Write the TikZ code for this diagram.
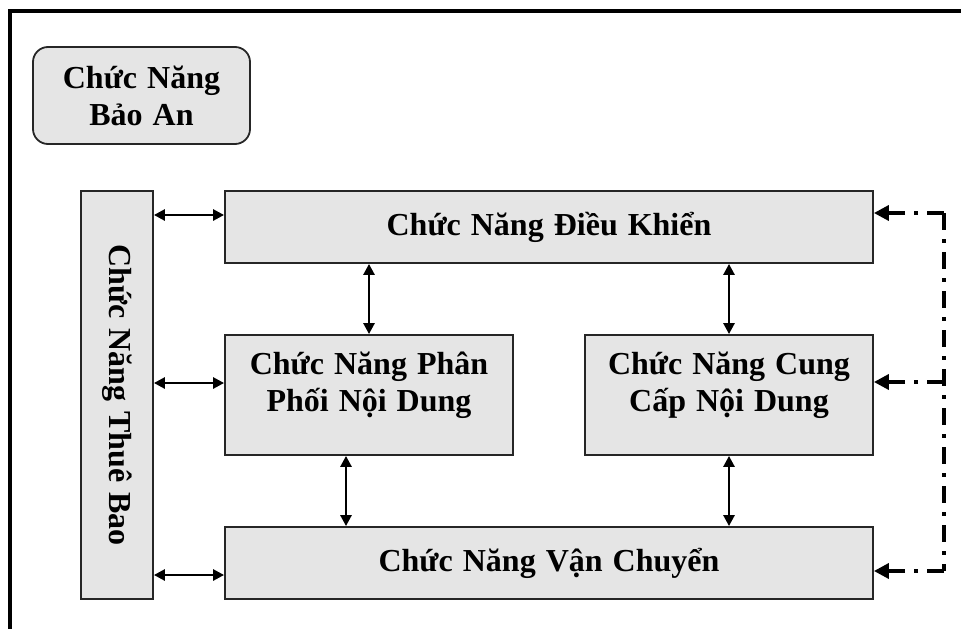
\documentclass[tikz,border=0pt]{standalone}
\usepackage{fontspec}
\setmainfont{Liberation Serif}
\usetikzlibrary{arrows.meta}
\newcommand\blockfont{\fontsize{32}{37}\selectfont\bfseries\spaceskip 10pt\relax}
\begin{document}
\begin{tikzpicture}[x=1pt,y=-1pt,
  box/.style={draw=black!85, line width=1.8pt, fill=black!10, inner sep=0pt,
    align=center, font=\blockfont},
  biarrow/.style={line width=2.6pt,
    {Triangle[length=11pt,width=11pt]}-{Triangle[length=11pt,width=11pt]}},
  ctlline/.style={line width=3.6pt, dash pattern=on 17pt off 9pt on 4pt off 9pt},
  ctlarrow/.style={ctlline, -{Triangle[length=15pt,width=15pt]}},
]
\useasboundingbox (0,0) rectangle (961,629);

% outer frame (top and left edges)
\draw[line width=4pt] (10,629) -- (10,11) -- (961,11);

% function blocks
\node[box, rounded corners=15pt, minimum width=217, minimum height=97]
  (baoan) at (141.5,95.5) {Chức Năng\\Bảo An};
\node[box, minimum width=72, minimum height=408]
  (thuebao) at (117,395) {\rotatebox{-90}{Chức Năng Thuê Bao}};
\node[box, minimum width=648, minimum height=72]
  (dieukhien) at (549,227) {Chức Năng Điều Khiển};
\node[box, minimum width=288, minimum height=120, text depth=26pt]
  (phanphoi) at (369,395) {Chức Năng Phân\\Phối Nội Dung};
\node[box, minimum width=288, minimum height=120, text depth=26pt]
  (cungcap) at (729,395) {Chức Năng Cung\\Cấp Nội Dung};
\node[box, minimum width=648, minimum height=72]
  (vanchuyen) at (549,563) {Chức Năng Vận Chuyển};

% connector levels
\coordinate (h1) at (0,215);
\coordinate (h2) at (0,383);
\coordinate (h3) at (0,575);
\coordinate (v1) at (369,0);
\coordinate (v2) at (729,0);
\coordinate (v3) at (346,0);
\coordinate (r1) at (0,213);
\coordinate (r2) at (0,382);
\coordinate (r3) at (0,571);
\coordinate (rx) at (944,0);

% subscriber links
\draw[biarrow] (thuebao.east |- h1) -- (dieukhien.west |- h1);
\draw[biarrow] (thuebao.east |- h2) -- (phanphoi.west |- h2);
\draw[biarrow] (thuebao.east |- h3) -- (vanchuyen.west |- h3);

% vertical links
\draw[biarrow] (dieukhien.south -| v1) -- (phanphoi.north -| v1);
\draw[biarrow] (dieukhien.south -| v2) -- (cungcap.north -| v2);
\draw[biarrow] (phanphoi.south -| v3) -- (vanchuyen.north -| v3);
\draw[biarrow] (cungcap.south -| v2) -- (vanchuyen.north -| v2);

% control links
\draw[ctlline] (rx |- r1) -- (rx |- r3);
\draw[ctlarrow] (rx |- r1) -- (dieukhien.east |- r1);
\draw[ctlarrow] (rx |- r2) -- (cungcap.east |- r2);
\draw[ctlarrow] (rx |- r3) -- (vanchuyen.east |- r3);
\end{tikzpicture}
\end{document}
